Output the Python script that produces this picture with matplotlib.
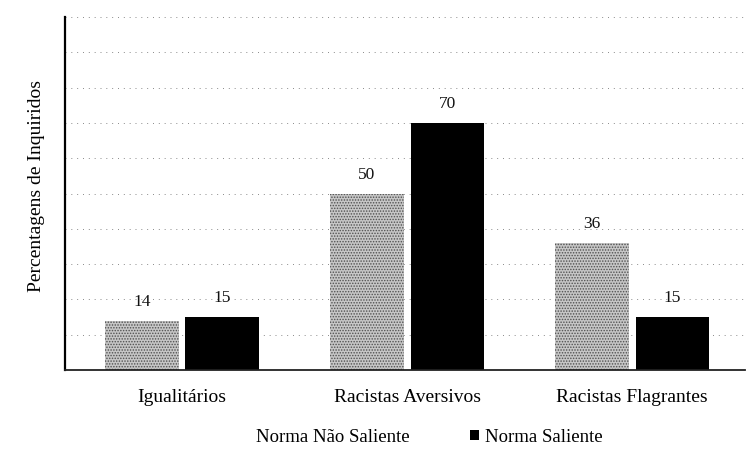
import matplotlib
matplotlib.use("Agg")
import matplotlib.pyplot as plt
from matplotlib.patches import Patch
import numpy as np

categories = ["Igualitários", "Racistas Aversivos", "Racistas Flagrantes"]
series_names = ["Norma Não Saliente", "Norma Saliente"]
nao_saliente = [14, 50, 36]
saliente = [15, 70, 15]

plt.rcParams['font.family'] = ['Liberation Serif', 'DejaVu Serif']
plt.rcParams['hatch.linewidth'] = 0.7
plt.rcParams['hatch.color'] = '#505050'

fig = plt.figure(figsize=(7.48, 4.54), dpi=100)
ax = fig.add_axes([65/748, 84/454, 680/748, 353/454])

x = np.arange(len(categories))
w = 0.325
off = 0.178
b1 = ax.bar(x - off, nao_saliente, w, color='#c6c6c6', hatch='......', edgecolor='#505050', linewidth=0)
b2 = ax.bar(x + off, saliente, w, color='black', linewidth=0)

for rects, vals in ((b1, nao_saliente), (b2, saliente)):
    for r, v in zip(rects, vals):
        ax.text(r.get_x() + r.get_width()/2, v + 3.0, str(v), ha='center', va='bottom',
                fontsize=12.5, color='#111')

ax.set_xlim(-0.52, 2.502)
ax.set_ylim(0, 100)
ax.set_yticks(np.arange(10, 101, 10))
ax.yaxis.grid(True, color='#8a8a8a', linestyle=(0, (1, 5)), linewidth=0.7)
ax.set_axisbelow(True)
ax.tick_params(axis='y', left=False, labelleft=False)
ax.tick_params(axis='x', bottom=False, labelsize=14, pad=10)
ax.set_xticks(x)
ax.set_xticklabels(categories)
for s in ('top', 'right'):
    ax.spines[s].set_visible(False)
ax.spines['left'].set_linewidth(1.6)
ax.spines['bottom'].set_linewidth(1.3)
ax.spines['bottom'].set_color('#222')

ax.set_ylabel("Percentagens de Inquiridos", fontsize=14)
ax.yaxis.set_label_coords(-20/680, 0.52)

handles = [Patch(facecolor='none', edgecolor='none'), Patch(facecolor='black', edgecolor='none')]
fig.legend(handles, series_names, loc='center', bbox_to_anchor=(422/748, 1 - 437/454),
           ncol=2, frameon=False, fontsize=13.5, handlelength=0.5, handleheight=0.5,
           handletextpad=0.3, columnspacing=3.2)

fig.savefig("out.png", dpi=100)
